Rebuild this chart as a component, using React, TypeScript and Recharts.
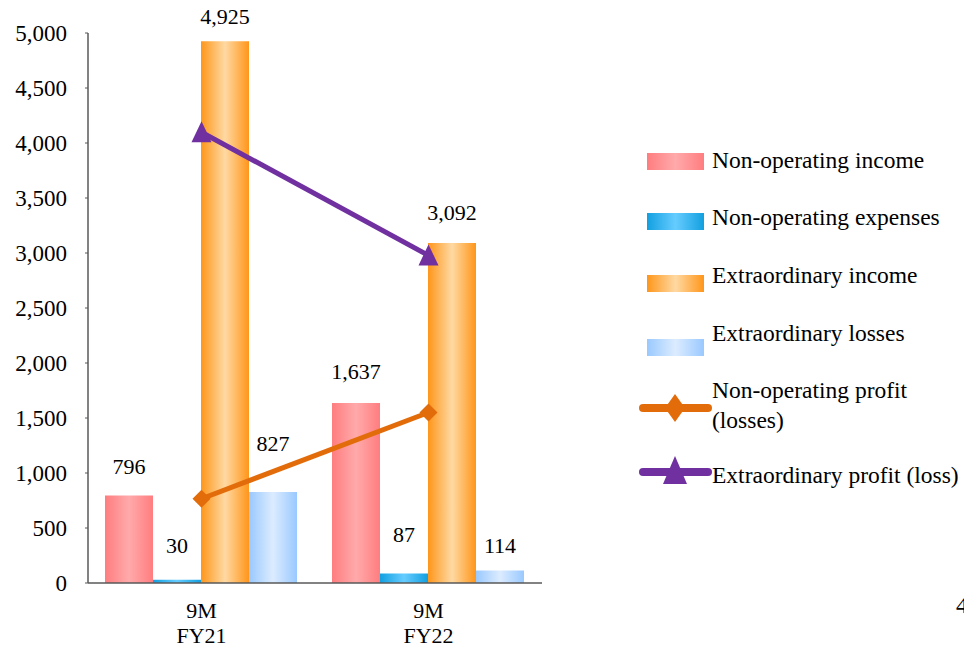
import React from "react";
import {
  ComposedChart,
  Bar,
  Line,
  XAxis,
  YAxis,
  Legend,
  LabelList,
} from "recharts";

// ── data ──────────────────────────────────────────────────────────────────────

const PERIODS = ["9M\nFY21", "9M\nFY22"];
const NON_OP_INCOME = [796, 1637];
const NON_OP_EXPENSES = [30, 87];
const EXTRA_INCOME = [4925, 3092];
const EXTRA_LOSSES = [827, 114];
const NON_OP_PROFIT = [766, 1550];
const EXTRA_PROFIT = [4098, 2978];
const Y_TICKS = [0, 500, 1000, 1500, 2000, 2500, 3000, 3500, 4000, 4500, 5000];

const chartData = PERIODS.map((p, i) => ({
  period: p,
  nonOpIncome: NON_OP_INCOME[i],
  nonOpExpenses: NON_OP_EXPENSES[i],
  extraIncome: EXTRA_INCOME[i],
  extraLosses: EXTRA_LOSSES[i],
  nonOpProfit: NON_OP_PROFIT[i],
  extraProfit: EXTRA_PROFIT[i],
}));

// ── styling ───────────────────────────────────────────────────────────────────

const FONT = "'Liberation Serif', 'DejaVu Serif', 'Times New Roman', Times, serif";
const TXT = { fontFamily: FONT };

const GRADIENTS = [
  { id: "gRed", edge: "#ff7d7f", mid: "#ffaaab" },
  { id: "gBlue", edge: "#12a0e0", mid: "#66ccff" },
  { id: "gOrange", edge: "#ff961a", mid: "#ffd9a3" },
  { id: "gLight", edge: "#99c9ff", mid: "#dcecff" },
];

const ORANGE_LINE = "#e36c0a";
const PURPLE_LINE = "#7030a0";

// how far each value label sits above its bar top
const LABEL_LIFT: Record<string, number[]> = {
  nonOpIncome: [29, 31],
  nonOpExpenses: [34, 39],
  extraIncome: [25, 30],
  extraLosses: [49, 25],
};

const fmt = (v: number) => v.toLocaleString("en-US");

function makeLabel(key: string) {
  return (props: any) => {
    const { x, y, width, value, index } = props;
    const lift = LABEL_LIFT[key][index] ?? 30;
    return (
      <text
        x={x + width / 2}
        y={y - lift}
        textAnchor="middle"
        dominantBaseline="central"
        style={TXT}
        fontSize={22}
        fill="#000"
      >
        {fmt(value)}
      </text>
    );
  };
}

function Diamond({ cx, cy }: any) {
  const r = 9;
  return (
    <path
      d={`M${cx},${cy - r} L${cx + r},${cy} L${cx},${cy + r} L${cx - r},${cy} Z`}
      fill={ORANGE_LINE}
    />
  );
}

function Triangle({ cx, cy }: any) {
  return (
    <path
      d={`M${cx},${cy - 11} L${cx + 10},${cy + 10} L${cx - 10},${cy + 10} Z`}
      fill={PURPLE_LINE}
    />
  );
}

function PeriodTick({ x, y, payload }: any) {
  const lines = String(payload.value).split("\n");
  return (
    <text x={x} y={y} textAnchor="middle" style={TXT} fontSize={22} fill="#000">
      {lines.map((l, i) => (
        <tspan key={i} x={x} dy={i === 0 ? 27 : 25}>
          {l}
        </tspan>
      ))}
    </text>
  );
}

// ── legend ────────────────────────────────────────────────────────────────────

const LEGEND_ROWS = [
  { kind: "bar", fill: "gRed", text: ["Non-operating income"], y: 32, ty: 30 },
  { kind: "bar", fill: "gBlue", text: ["Non-operating expenses"], y: 92, ty: 87 },
  { kind: "bar", fill: "gOrange", text: ["Extraordinary income"], y: 154, ty: 145 },
  { kind: "bar", fill: "gLight", text: ["Extraordinary losses"], y: 218, ty: 203 },
  { kind: "diamond", fill: ORANGE_LINE, text: ["Non-operating profit", "(losses)"], y: 278, ty: 260 },
  { kind: "triangle", fill: PURPLE_LINE, text: ["Extraordinary profit (loss)"], y: 342, ty: 345 },
];

function LegendBox() {
  return (
    <svg width={330} height={370} style={{ overflow: "visible" }}>
      <defs>
        {GRADIENTS.map((g) => (
          <linearGradient key={g.id} id={g.id + "L"} x1="0" y1="0" x2="1" y2="0">
            <stop offset="0" stopColor={g.edge} />
            <stop offset="0.5" stopColor={g.mid} />
            <stop offset="1" stopColor={g.edge} />
          </linearGradient>
        ))}
      </defs>
      {LEGEND_ROWS.map((r, i) => (
        <g key={i}>
          {r.kind === "bar" && (
            <rect x={7} y={r.y - 9} width={57} height={17} fill={`url(#${r.fill}L)`} />
          )}
          {r.kind === "diamond" && (
            <g>
              <line x1={3} x2={68} y1={r.y} y2={r.y} stroke={r.fill} strokeWidth={8} strokeLinecap="round" />
              <path d={`M35,${r.y - 14} L45,${r.y} L35,${r.y + 14} L25,${r.y} Z`} fill={r.fill} />
            </g>
          )}
          {r.kind === "triangle" && (
            <g>
              <line x1={3} x2={68} y1={r.y} y2={r.y} stroke={r.fill} strokeWidth={8} strokeLinecap="round" />
              <path d={`M35,${r.y - 16} L47,${r.y + 12} L23,${r.y + 12} Z`} fill={r.fill} />
            </g>
          )}
          <text style={TXT} fontSize={23.5} fill="#000" dominantBaseline="central">
            {r.text.map((t, j) => (
              <tspan key={j} x={72} y={r.ty + j * 30}>
                {t}
              </tspan>
            ))}
          </text>
        </g>
      ))}
    </svg>
  );
}

// ── chart ─────────────────────────────────────────────────────────────────────

export default function App() {
  return (
    <div
      style={{
        position: "absolute",
        left: 0,
        top: 0,
        width: 964,
        height: 648,
        overflow: "hidden",
        background: "#fff",
        fontFamily: FONT,
      }}
    >
      <ComposedChart
        width={964}
        height={648}
        data={chartData}
        margin={{ top: 33, right: 422, bottom: 35, left: 0 }}
        barCategoryGap={17}
        barGap={0}
        style={TXT}
      >
        <defs>
          {GRADIENTS.map((g) => (
            <linearGradient key={g.id} id={g.id} x1="0" y1="0" x2="1" y2="0">
              <stop offset="0" stopColor={g.edge} />
              <stop offset="0.5" stopColor={g.mid} />
              <stop offset="1" stopColor={g.edge} />
            </linearGradient>
          ))}
        </defs>
        <XAxis
          dataKey="period"
          height={30}
          tickLine={false}
          axisLine={{ stroke: "#595959", strokeWidth: 1.5 }}
          tick={<PeriodTick />}
          interval={0}
        />
        <YAxis
          width={88}
          domain={[0, 5000]}
          ticks={Y_TICKS}
          tickFormatter={fmt}
          tickSize={3}
          tickMargin={18}
          tickLine={{ stroke: "#595959" }}
          axisLine={{ stroke: "#595959", strokeWidth: 1.5 }}
          tick={{ style: TXT, fontSize: 23, fill: "#000" }}
          interval={0}
        />
        <Legend
          layout="vertical"
          align="center"
          verticalAlign="middle"
          wrapperStyle={{ left: 640, top: 130, width: 330, height: 370 }}
          content={() => <LegendBox />}
        />
        <Bar dataKey="nonOpIncome" name="Non-operating income" fill="url(#gRed)" isAnimationActive={false}>
          <LabelList dataKey="nonOpIncome" content={makeLabel("nonOpIncome")} />
        </Bar>
        <Bar dataKey="nonOpExpenses" name="Non-operating expenses" fill="url(#gBlue)" isAnimationActive={false}>
          <LabelList dataKey="nonOpExpenses" content={makeLabel("nonOpExpenses")} />
        </Bar>
        <Bar dataKey="extraIncome" name="Extraordinary income" fill="url(#gOrange)" isAnimationActive={false}>
          <LabelList dataKey="extraIncome" content={makeLabel("extraIncome")} />
        </Bar>
        <Bar dataKey="extraLosses" name="Extraordinary losses" fill="url(#gLight)" isAnimationActive={false}>
          <LabelList dataKey="extraLosses" content={makeLabel("extraLosses")} />
        </Bar>
        <Line
          dataKey="nonOpProfit"
          name="Non-operating profit (losses)"
          stroke={ORANGE_LINE}
          strokeWidth={5}
          dot={<Diamond />}
          activeDot={false}
          isAnimationActive={false}
        />
        <Line
          dataKey="extraProfit"
          name="Extraordinary profit (loss)"
          stroke={PURPLE_LINE}
          strokeWidth={5}
          dot={<Triangle />}
          activeDot={false}
          isAnimationActive={false}
        />
        <text x={956} y={613} style={TXT} fontSize={24} fill="#000">
          4
        </text>
      </ComposedChart>
    </div>
  );
}
